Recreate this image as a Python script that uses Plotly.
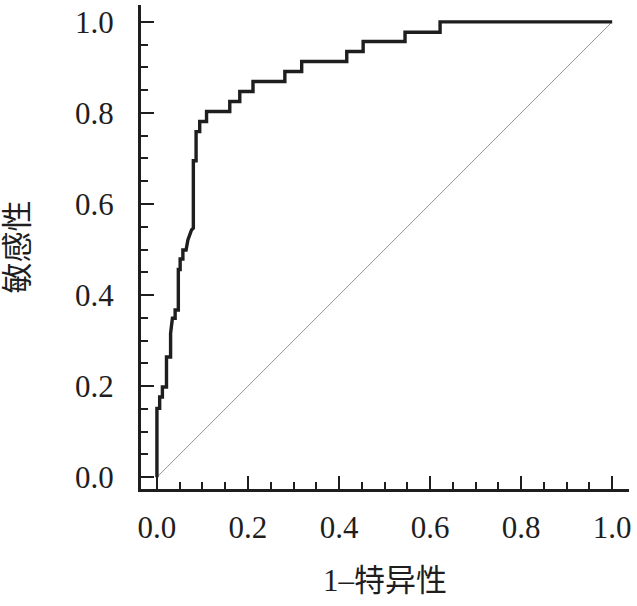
import plotly.graph_objects as go

# ROC curve vertices (1 - specificity, sensitivity)
fpr = [0.000, 0.000, 0.006, 0.006, 0.012, 0.012, 0.021, 0.021, 0.030, 0.030,
       0.034, 0.040, 0.040, 0.047, 0.047, 0.051, 0.051, 0.057, 0.057, 0.064,
       0.068, 0.076, 0.080, 0.080, 0.086, 0.086, 0.094, 0.094, 0.109, 0.109,
       0.160, 0.160, 0.182, 0.182, 0.211, 0.211, 0.281, 0.281, 0.318, 0.318,
       0.417, 0.417, 0.453, 0.453, 0.545, 0.545, 0.622, 0.622, 1.000]
tpr = [0.000, 0.151, 0.151, 0.176, 0.176, 0.198, 0.198, 0.264, 0.264, 0.316,
       0.349, 0.349, 0.367, 0.367, 0.456, 0.456, 0.479, 0.479, 0.499, 0.499,
       0.521, 0.543, 0.547, 0.695, 0.695, 0.759, 0.759, 0.781, 0.781, 0.803,
       0.803, 0.825, 0.825, 0.847, 0.847, 0.869, 0.869, 0.891, 0.891, 0.913,
       0.913, 0.935, 0.935, 0.957, 0.957, 0.977, 0.977, 1.000, 1.000]

ref_x = [0, 1]
ref_y = [0, 1]

tick_vals = [0.0, 0.2, 0.4, 0.6, 0.8, 1.0]
tick_text = ["0.0", "0.2", "0.4", "0.6", "0.8", "1.0"]

x_title = "1–特异性"
y_title = "敏感性"

FONT = "Liberation Serif, 'Times New Roman', 'Noto Sans CJK SC', serif"
INK = "#1e1e1e"

fig = go.Figure()
fig.add_trace(go.Scatter(x=ref_x, y=ref_y, mode="lines",
                         line=dict(color="#9a9a9a", width=1), hoverinfo="skip"))
fig.add_trace(go.Scatter(x=fpr, y=tpr, mode="lines",
                         line=dict(color=INK, width=3.4)))

axis_common = dict(
    showgrid=False, zeroline=False,
    showline=True, linecolor=INK, linewidth=3,
    ticks="inside", ticklen=13, tickwidth=2, tickcolor=INK,
    tickvals=tick_vals, ticktext=tick_text,
    tickfont=dict(family=FONT, size=31, color=INK),
    minor=dict(ticks="inside", ticklen=7, tickwidth=2, tickcolor=INK,
               tick0=0, dtick=0.05),
    automargin=False,
    title_font=dict(family=FONT, size=31, color=INK),
)

fig.update_xaxes(range=[-0.035, 1.037], title_text=x_title,
                 title_standoff=26, ticklabelstandoff=9, **axis_common)
fig.update_yaxes(range=[-0.026, 1.037], title_text=y_title,
                 title_standoff=40, ticklabelstandoff=18, **axis_common)

fig.update_layout(
    width=637, height=606,
    margin=dict(l=141, r=8, t=5, b=117),
    paper_bgcolor="white", plot_bgcolor="white",
    showlegend=False,
    font=dict(family=FONT, color=INK),
)

fig.write_html(
    "out.html",
    config={"displayModeBar": False},
    post_script="document.body.style.margin='0';document.body.style.padding='0';",
)
